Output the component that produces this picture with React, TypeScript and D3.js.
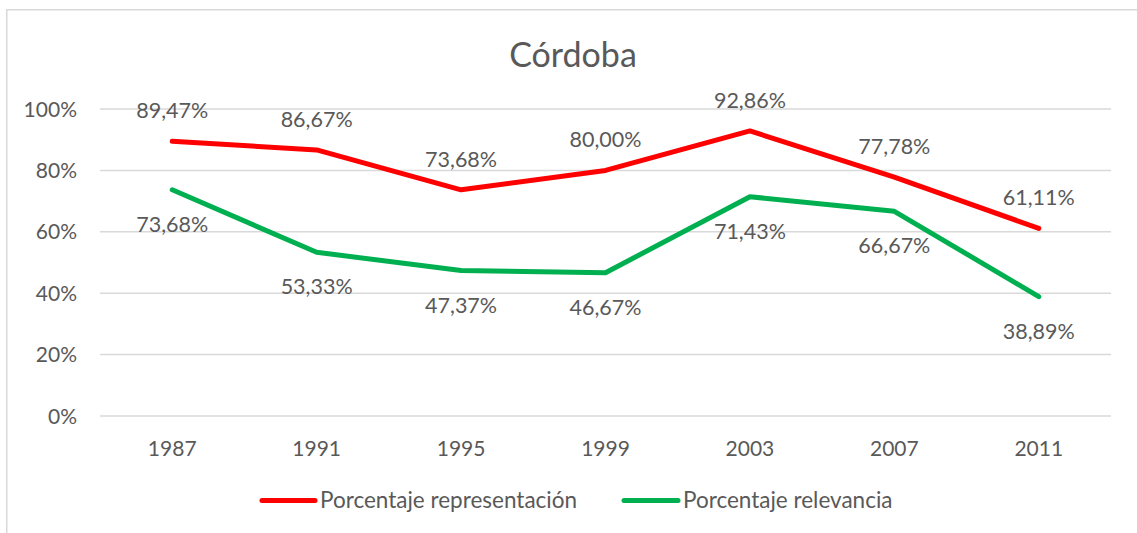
import React from "react";
import * as d3 from "d3";

const years = ["1987", "1991", "1995", "1999", "2003", "2007", "2011"];
const representacion = [89.47, 86.67, 73.68, 80.0, 92.86, 77.78, 61.11];
const relevancia = [73.68, 53.33, 47.37, 46.67, 71.43, 66.67, 38.89];
const yTicks = [0, 20, 40, 60, 80, 100];
const seriesNames = ["Porcentaje representación", "Porcentaje relevancia"];

const W = 1137;
const H = 533;
const FONT = "Lato, 'Open Sans', sans-serif";
const TEXT = "#595959";
const RED = "#FF0000";
const GREEN = "#00B050";

export default function App() {
  const x = d3.scaleBand<string>().domain(years).range([100, 1111]);
  const y = d3.scaleLinear().domain([0, 100]).range([416, 109]);
  const cx = (d: string) => (x(d) as number) + x.bandwidth() / 2;
  const line = d3
    .line<number>()
    .x((_, i) => cx(years[i]))
    .y((v) => y(v));
  const fmt = (v: number) => v.toFixed(2).replace(".", ",") + "%";

  return (
    <svg
      width={W}
      height={H}
      style={{ position: "absolute", left: 0, top: 0, background: "#fff" }}
      fontFamily={FONT}
    >
      <rect x={0} y={0} width={W} height={H} fill="#fff" />
      <rect x={6.75} y={9.75} width={W + 20} height={H + 20} fill="none" stroke="#D9D9D9" strokeWidth={1.5} />
      <text x={573} y={67} textAnchor="middle" fontSize={34} fill={TEXT}>
        Córdoba
      </text>
      {yTicks.map((t) => (
        <g key={t}>
          <line x1={100} x2={1111} y1={y(t)} y2={y(t)} stroke="#D9D9D9" strokeWidth={1.5} />
          <text x={77} y={y(t) + 7.5} textAnchor="end" fontSize={21} fill={TEXT}>
            {t}%
          </text>
        </g>
      ))}
      {years.map((yr) => (
        <text key={yr} x={cx(yr)} y={456} textAnchor="middle" fontSize={21} fill={TEXT}>
          {yr}
        </text>
      ))}
      <path d={line(representacion) || ""} fill="none" stroke={RED} strokeWidth={5} strokeLinecap="round" strokeLinejoin="round" />
      <path d={line(relevancia) || ""} fill="none" stroke={GREEN} strokeWidth={5} strokeLinecap="round" strokeLinejoin="round" />
      {representacion.map((v, i) => (
        <text key={"r" + i} x={cx(years[i])} y={y(v) - 23} textAnchor="middle" fontSize={21.5} fill={TEXT}>
          {fmt(v)}
        </text>
      ))}
      {relevancia.map((v, i) => (
        <text key={"g" + i} x={cx(years[i])} y={y(v) + 42} textAnchor="middle" fontSize={21.5} fill={TEXT}>
          {fmt(v)}
        </text>
      ))}
      <line x1={262} x2={315} y1={500.5} y2={500.5} stroke={RED} strokeWidth={5} strokeLinecap="round" />
      <text x={320} y={508} fontSize={22.5} fill={TEXT}>
        {seriesNames[0]}
      </text>
      <line x1={624} x2={678} y1={500.5} y2={500.5} stroke={GREEN} strokeWidth={5} strokeLinecap="round" />
      <text x={683} y={508} fontSize={22.5} fill={TEXT}>
        {seriesNames[1]}
      </text>
    </svg>
  );
}
